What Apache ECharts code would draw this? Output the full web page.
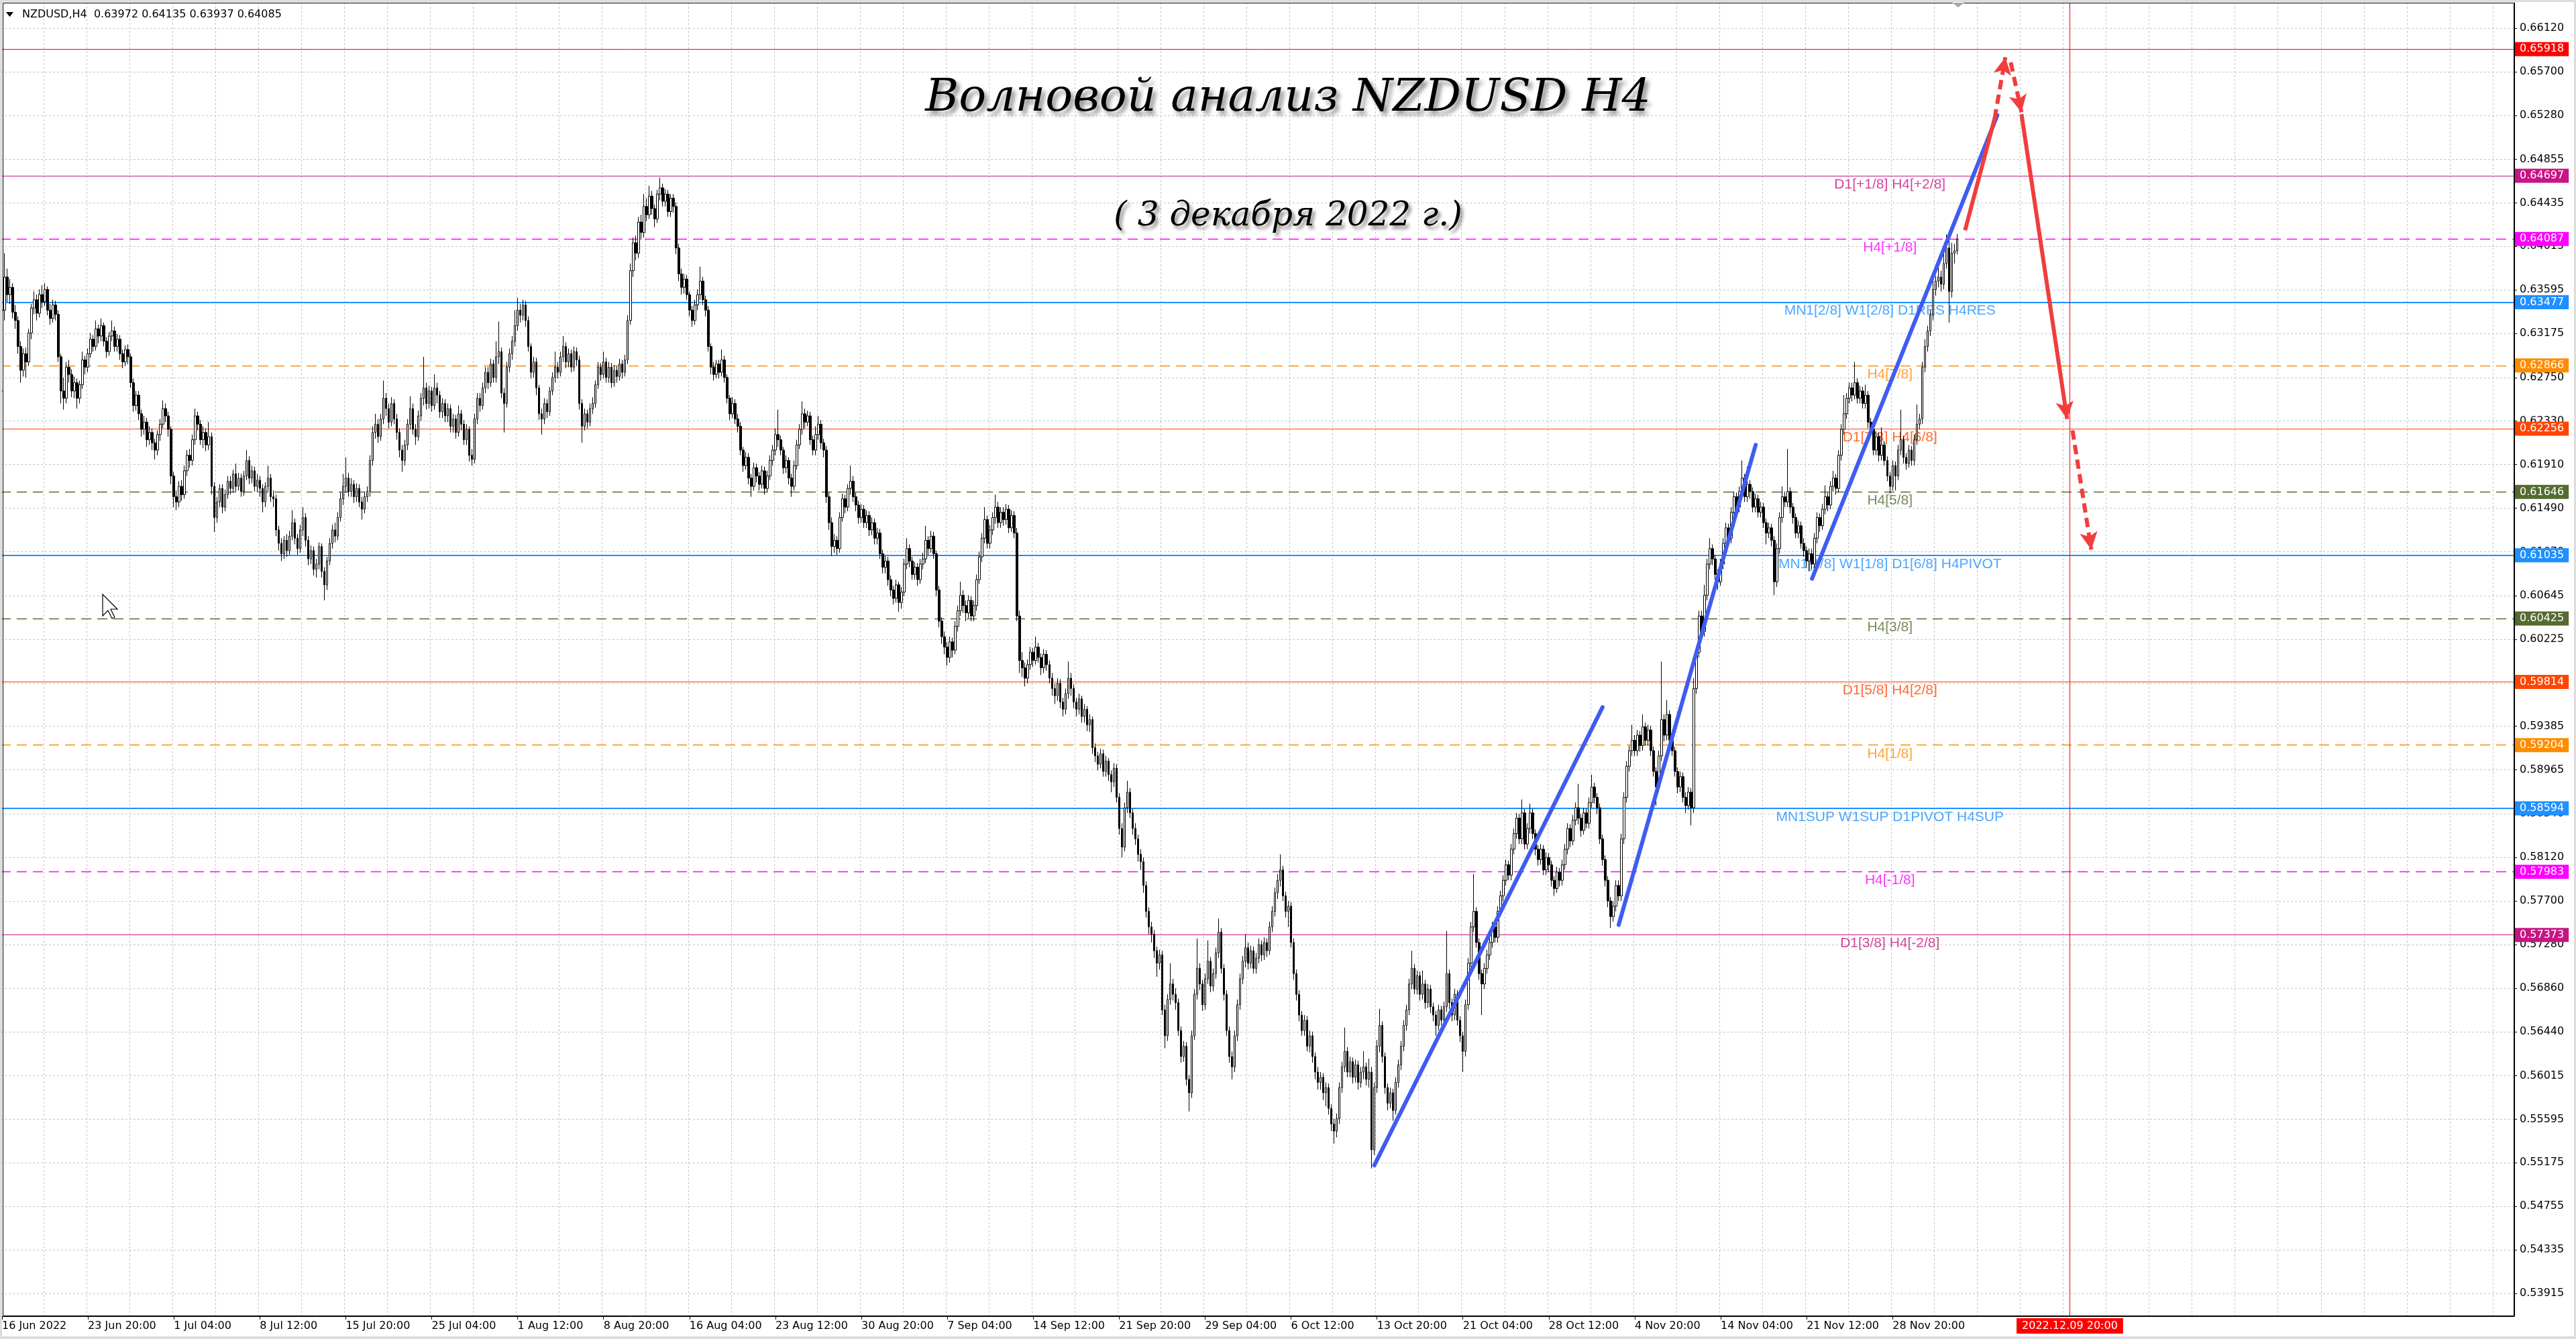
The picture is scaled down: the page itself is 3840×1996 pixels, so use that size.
<!DOCTYPE html>
<html><head><meta charset="utf-8">
<script src="https://cdn.jsdelivr.net/npm/echarts@6/dist/echarts.min.js"></script>
<style>html,body{margin:0;padding:0;background:#fff;}#c{width:3840px;height:1996px;}</style>
</head><body><div id="c"></div>
<script>
// H4 candles, values in pips (price*10000): [open, close, low, high]
const jun = [
[6262,6340,6248,6352],[6340,6372,6330,6395],[6372,6355,6348,6380],
[6355,6362,6346,6370],[6362,6338,6332,6366],[6338,6330,6322,6345],[6330,6305,6298,6334],[6305,6282,6270,6310],[6282,6298,6276,6303],
[6298,6290,6275,6304],[6290,6318,6286,6322],[6318,6342,6312,6346],[6342,6350,6336,6358],[6350,6337,6330,6355],[6337,6355,6333,6360],
[6355,6348,6342,6364],[6348,6360,6344,6366],[6360,6340,6335,6363],[6340,6332,6326,6346],[6332,6345,6328,6350],[6345,6336,6330,6349],
[6336,6295,6290,6340],[6295,6262,6250,6298],[6262,6255,6244,6275],[6255,6285,6250,6290],[6285,6278,6270,6292],[6278,6262,6256,6283],
[6262,6270,6255,6276],[6270,6255,6245,6274],[6255,6268,6250,6272],[6268,6292,6264,6300],[6292,6285,6278,6296],[6285,6298,6280,6303],
[6298,6312,6294,6318],[6312,6305,6300,6316],[6305,6322,6301,6330],[6322,6315,6308,6326],[6315,6325,6310,6332],[6325,6310,6305,6328],
[6310,6300,6294,6314],[6300,6315,6296,6319],[6315,6320,6310,6330],[6320,6305,6300,6324],[6305,6312,6300,6317],[6312,6298,6292,6316],
[6298,6290,6284,6302],[6290,6302,6286,6306],[6302,6295,6288,6307],[6295,6270,6265,6298],[6270,6248,6242,6274],[6248,6258,6243,6262],
[6258,6240,6234,6262],[6240,6225,6218,6244],[6225,6232,6220,6238],[6232,6215,6208,6236],[6215,6222,6210,6228],[6222,6212,6205,6226],
[6212,6205,6196,6216],[6205,6220,6200,6224],[6220,6230,6214,6235],[6230,6245,6226,6253],[6245,6238,6232,6250],[6238,6225,6218,6242]
];
const jul = [
[6225,6180,6172,6228],[6180,6160,6150,6184],[6160,6155,6147,6166],[6155,6170,6150,6175],[6170,6162,6156,6176],[6162,6185,6158,6190],
[6185,6200,6180,6205],[6200,6195,6188,6206],[6195,6215,6190,6220],[6215,6238,6210,6245],[6238,6230,6224,6242],[6230,6215,6210,6234],
[6215,6222,6207,6228],[6222,6210,6204,6226],[6210,6218,6205,6232],[6218,6170,6162,6222],[6170,6140,6126,6174],[6140,6155,6135,6160],
[6155,6168,6150,6172],[6168,6150,6144,6172],[6150,6162,6146,6167],[6162,6175,6158,6180],[6175,6168,6162,6180],[6168,6182,6164,6186],
[6182,6170,6165,6192],[6170,6178,6166,6183],[6178,6165,6160,6182],[6165,6180,6161,6185],[6180,6195,6176,6205],[6195,6178,6172,6199],
[6178,6185,6173,6190],[6185,6170,6165,6189],[6170,6176,6164,6182],[6176,6168,6160,6180],[6168,6155,6145,6172],[6155,6170,6150,6174],
[6170,6178,6165,6190],[6178,6160,6155,6182],[6160,6158,6150,6166],[6158,6128,6122,6162],[6128,6115,6108,6132],[6115,6105,6098,6120],
[6105,6118,6100,6122],[6118,6108,6102,6124],[6108,6122,6104,6127],[6122,6135,6118,6147],[6135,6120,6114,6139],[6120,6110,6104,6124],
[6110,6128,6106,6133],[6128,6140,6122,6150],[6140,6118,6112,6144],[6118,6100,6094,6122],[6100,6108,6095,6113],[6108,6090,6084,6112],
[6090,6095,6082,6100],[6095,6112,6090,6116],[6112,6088,6082,6115],[6088,6075,6060,6092],[6075,6098,6070,6102],[6098,6115,6094,6120],
[6115,6128,6110,6133],[6128,6122,6116,6135],[6122,6140,6118,6145],[6140,6158,6136,6164],[6158,6170,6152,6182],[6170,6178,6164,6198],
[6178,6165,6160,6183],[6165,6172,6160,6178],[6172,6160,6154,6176],[6160,6168,6155,6173],[6168,6155,6150,6172],[6155,6148,6138,6160],
[6148,6160,6144,6165],[6160,6165,6155,6170],[6165,6195,6160,6200],[6195,6222,6190,6228],[6222,6230,6216,6240],[6230,6218,6212,6235],
[6218,6235,6214,6240],[6235,6255,6230,6272],[6255,6245,6238,6260],[6245,6232,6226,6250],[6232,6250,6228,6256],[6250,6235,6230,6254],
[6235,6222,6215,6240],[6222,6205,6198,6226],[6205,6195,6184,6210],[6195,6210,6190,6215],[6210,6230,6205,6235],[6230,6245,6225,6257],
[6245,6225,6220,6250],[6225,6218,6210,6230],[6218,6238,6214,6243],[6238,6255,6233,6260],[6255,6265,6248,6295],[6265,6250,6244,6270],
[6250,6262,6245,6267],[6262,6248,6242,6266],[6248,6265,6244,6278],[6265,6258,6250,6270],[6258,6242,6236,6262],[6242,6250,6236,6255],
[6250,6238,6232,6254],[6238,6245,6232,6250],[6245,6228,6222,6249],[6228,6235,6222,6240],[6235,6222,6216,6239],[6222,6240,6218,6248],
[6240,6230,6224,6244],[6230,6215,6210,6234],[6215,6225,6210,6230],[6225,6200,6194,6228],[6200,6196,6190,6206],[6196,6235,6192,6240],
[6235,6255,6230,6260],[6255,6248,6242,6260],[6248,6265,6244,6270],[6265,6280,6260,6285],[6280,6270,6264,6285],[6270,6288,6266,6293],
[6288,6275,6270,6292],[6275,6295,6270,6310],[6295,6300,6288,6329],[6300,6260,6255,6304],[6260,6250,6222,6265],[6250,6285,6246,6290]
];
const aug = [
[6285,6298,6280,6303],[6298,6310,6292,6315],[6310,6325,6305,6340],[6325,6340,6320,6352],[6340,6335,6328,6346],[6335,6345,6330,6350],
[6345,6330,6324,6349],[6330,6305,6300,6334],[6305,6280,6274,6308],[6280,6290,6275,6295],[6290,6265,6258,6294],[6265,6240,6234,6268],
[6240,6235,6220,6245],[6235,6250,6230,6255],[6250,6242,6236,6254],[6242,6262,6238,6266],[6262,6275,6258,6280],[6275,6285,6270,6300],
[6285,6280,6274,6290],[6280,6295,6276,6300],[6295,6305,6290,6315],[6305,6290,6284,6309],[6290,6298,6285,6303],[6298,6285,6280,6302],
[6285,6300,6281,6305],[6300,6292,6286,6304],[6292,6250,6244,6296],[6250,6228,6212,6254],[6228,6240,6224,6245],[6240,6232,6226,6244],
[6232,6245,6228,6250],[6245,6250,6240,6256],[6250,6268,6246,6272],[6268,6285,6264,6290],[6285,6278,6272,6289],[6278,6290,6274,6300],
[6290,6275,6270,6294],[6275,6285,6270,6290],[6285,6270,6265,6289],[6270,6282,6266,6287],[6282,6276,6270,6286],[6276,6288,6272,6293],
[6288,6280,6274,6292],[6280,6292,6276,6297],[6292,6330,6288,6335],[6330,6378,6326,6385],[6378,6405,6372,6410],[6405,6395,6388,6412],
[6395,6425,6390,6430],[6425,6415,6408,6432],[6415,6440,6410,6452],[6440,6432,6426,6448],[6432,6450,6428,6460],[6450,6438,6432,6455],
[6438,6428,6420,6442],[6428,6452,6424,6456],[6452,6458,6446,6468],[6458,6445,6440,6462],[6445,6452,6440,6457],[6452,6435,6430,6456],
[6435,6448,6430,6452],[6448,6440,6434,6452],[6440,6400,6394,6444],[6400,6375,6368,6404],[6375,6362,6355,6380],[6362,6370,6356,6375],
[6370,6355,6350,6374],[6355,6340,6334,6358],[6340,6330,6324,6344],[6330,6345,6326,6350],[6345,6355,6340,6360],[6355,6368,6350,6382],
[6368,6350,6345,6372],[6350,6340,6334,6354],[6340,6305,6300,6344],[6305,6285,6278,6308],[6285,6278,6272,6290],[6278,6288,6274,6292],
[6288,6280,6274,6292],[6280,6292,6276,6302],[6292,6275,6270,6296],[6275,6255,6250,6278],[6255,6240,6234,6258],[6240,6250,6236,6256],
[6250,6235,6230,6254],[6235,6228,6222,6240],[6228,6205,6200,6232],[6205,6190,6184,6208],[6190,6198,6186,6203],[6198,6178,6172,6202],
[6178,6170,6160,6182],[6170,6188,6166,6193],[6188,6180,6174,6192],[6180,6172,6166,6184],[6172,6185,6168,6190],[6185,6168,6162,6189],
[6168,6180,6164,6185],[6180,6195,6176,6200],[6195,6205,6190,6210],[6205,6220,6200,6226],[6220,6215,6208,6244],[6215,6205,6200,6219],
[6205,6188,6182,6208],[6188,6195,6183,6200],[6195,6178,6172,6198],[6178,6170,6160,6182],[6170,6190,6166,6195],[6190,6210,6186,6215],
[6210,6225,6206,6230],[6225,6240,6220,6252],[6240,6232,6226,6245],[6232,6238,6228,6243],[6238,6215,6210,6242],[6215,6205,6200,6219],
[6205,6220,6200,6228],[6220,6230,6215,6238],[6230,6212,6206,6234],[6212,6205,6198,6216],[6205,6160,6154,6209],[6160,6135,6128,6164],
[6135,6112,6103,6140],[6112,6118,6106,6124],[6118,6110,6104,6122],[6110,6140,6106,6145],[6140,6158,6136,6163],[6158,6150,6144,6162],
[6150,6168,6146,6172],[6168,6175,6162,6190],[6175,6160,6155,6180],[6160,6152,6146,6164],[6152,6140,6134,6156],[6140,6148,6135,6153],
[6148,6135,6130,6152],[6135,6142,6130,6147],[6142,6128,6122,6146],[6128,6135,6123,6140],[6135,6120,6114,6139],[6120,6125,6114,6130]
];
const sep = [
[6125,6105,6100,6129],[6105,6092,6086,6109],[6092,6098,6086,6103],[6098,6080,6074,6102],[6080,6070,6064,6084],[6070,6062,6056,6074],
[6062,6075,6058,6080],[6075,6058,6049,6078],[6058,6068,6052,6073],[6068,6095,6064,6100],[6095,6110,6090,6120],[6110,6098,6092,6114],
[6098,6085,6080,6102],[6085,6092,6080,6097],[6092,6080,6074,6096],[6080,6095,6076,6100],[6095,6100,6090,6106],[6100,6118,6096,6132],
[6118,6110,6104,6122],[6110,6122,6106,6127],[6122,6105,6100,6126],[6105,6070,6064,6108],[6070,6040,6034,6074],[6040,6025,6018,6044],
[6025,6015,6008,6030],[6015,6005,5997,6020],[6005,6020,6000,6025],[6020,6012,6005,6024],[6012,6035,6008,6040],[6035,6050,6030,6055],
[6050,6065,6045,6078],[6065,6055,6048,6070],[6055,6048,6040,6060],[6048,6060,6043,6065],[6060,6045,6040,6064],[6045,6055,6040,6060],
[6055,6080,6050,6085],[6080,6102,6076,6107],[6102,6120,6097,6125],[6120,6138,6115,6150],[6138,6115,6110,6142],[6115,6128,6110,6133],
[6128,6140,6123,6145],[6140,6150,6134,6162],[6150,6135,6130,6155],[6135,6145,6130,6150],[6145,6138,6132,6150],[6138,6148,6133,6153],
[6148,6130,6125,6152],[6130,6142,6126,6147],[6142,6125,6120,6146],[6125,6045,6040,6130],[6045,6002,5990,6050],[6002,5995,5986,6010],
[5995,5985,5977,6000],[5985,5998,5980,6003],[5998,6010,5993,6015],[6010,6002,5996,6014],[6002,6015,5998,6025],[6015,6005,6000,6019],
[6005,5995,5988,6009],[5995,6008,5990,6013],[6008,5998,5992,6012],[5998,5985,5980,6002],[5985,5975,5968,5990],[5975,5968,5960,5980],
[5968,5980,5963,5985],[5980,5962,5956,5984],[5962,5955,5948,5966],[5955,5970,5950,5975],[5970,5985,5965,6001],[5985,5975,5968,5990],
[5975,5962,5956,5979],[5962,5955,5948,5966],[5955,5965,5950,5970],[5965,5948,5942,5968],[5948,5955,5942,5960],[5955,5940,5934,5958],
[5940,5945,5933,5950],[5945,5918,5912,5948],[5918,5910,5904,5922],[5910,5902,5896,5914],[5902,5912,5898,5917],[5912,5895,5890,5916],
[5895,5905,5890,5910],[5905,5892,5886,5908],[5892,5885,5875,5896],[5885,5898,5880,5903],[5898,5870,5865,5902],[5870,5840,5834,5874],
[5840,5822,5812,5845],[5822,5860,5818,5865],[5860,5875,5855,5886],[5875,5855,5850,5879],[5855,5840,5834,5859],[5840,5830,5824,5845],
[5830,5815,5808,5834],[5815,5808,5800,5820],[5808,5785,5778,5812],[5785,5760,5754,5789],[5760,5745,5738,5764],[5745,5738,5730,5750],
[5738,5722,5715,5742],[5722,5710,5697,5726],[5710,5718,5704,5723],[5718,5665,5660,5722],[5665,5640,5628,5670],[5640,5675,5635,5680],
[5675,5690,5670,5710],[5690,5680,5674,5695],[5680,5672,5665,5686],[5672,5645,5640,5676],[5645,5620,5614,5649],[5620,5630,5615,5635],
[5630,5598,5592,5634],[5598,5585,5567,5602],[5585,5640,5580,5645],[5640,5680,5636,5685],[5680,5705,5675,5734],[5705,5690,5684,5710],
[5690,5670,5664,5694],[5670,5695,5665,5700],[5695,5712,5690,5732],[5712,5688,5682,5716],[5688,5700,5683,5705],[5700,5720,5695,5725],
[5720,5740,5715,5753],[5740,5705,5700,5744],[5705,5680,5674,5709],[5680,5645,5640,5684],[5645,5620,5614,5649],[5620,5610,5598,5625]
];
const oct = [
[5610,5640,5605,5645],[5640,5670,5635,5675],[5670,5695,5665,5700],[5695,5712,5690,5717],[5712,5725,5706,5738],[5725,5710,5704,5730],
[5710,5722,5705,5727],[5722,5705,5700,5726],[5705,5715,5700,5720],[5715,5728,5710,5734],[5728,5718,5712,5732],[5718,5730,5713,5735],
[5730,5722,5716,5734],[5722,5745,5718,5750],[5745,5760,5740,5765],[5760,5778,5755,5783],[5778,5790,5772,5796],[5790,5800,5784,5815],
[5800,5775,5770,5804],[5775,5760,5754,5779],[5760,5765,5745,5770],[5765,5730,5725,5769],[5730,5700,5694,5734],[5700,5680,5674,5704],
[5680,5660,5654,5684],[5660,5645,5640,5664],[5645,5655,5640,5660],[5655,5630,5625,5659],[5630,5640,5624,5645],[5640,5620,5614,5644],
[5620,5605,5598,5624],[5605,5595,5588,5610],[5595,5600,5588,5605],[5600,5585,5578,5604],[5585,5590,5572,5595],[5590,5570,5564,5594],
[5570,5555,5548,5574],[5555,5548,5536,5560],[5548,5560,5542,5565],[5560,5590,5555,5595],[5590,5610,5585,5615],[5610,5625,5605,5648],
[5625,5605,5600,5629],[5605,5615,5600,5620],[5615,5600,5594,5619],[5600,5612,5595,5617],[5612,5595,5588,5616],[5595,5605,5590,5610],
[5605,5610,5598,5625],[5610,5598,5592,5614],[5598,5605,5590,5618],[5605,5530,5512,5610],[5530,5590,5525,5595],[5590,5630,5585,5636],
[5630,5650,5624,5666],[5650,5620,5614,5654],[5620,5590,5584,5624],[5590,5575,5568,5594],[5575,5585,5570,5590],[5585,5568,5558,5589],
[5568,5595,5564,5600],[5595,5612,5590,5617],[5612,5630,5607,5635],[5630,5650,5625,5655],[5650,5665,5645,5670],[5665,5690,5660,5695],
[5690,5705,5685,5722],[5705,5685,5680,5709],[5685,5698,5680,5703],[5698,5680,5674,5702],[5680,5690,5675,5703],[5690,5672,5666,5694],
[5672,5685,5667,5690],[5685,5668,5662,5689],[5668,5660,5654,5672],[5660,5650,5640,5664],[5650,5665,5645,5670],[5665,5655,5650,5669],
[5655,5668,5650,5673],[5668,5700,5663,5741],[5700,5672,5666,5704],[5672,5660,5654,5676],[5660,5680,5655,5685],[5680,5655,5650,5684],
[5655,5640,5634,5659],[5640,5625,5605,5644],[5625,5670,5620,5675],[5670,5710,5665,5715],[5710,5745,5705,5750],[5745,5760,5740,5796],
[5760,5730,5725,5764],[5730,5700,5694,5734],[5700,5690,5660,5704],[5690,5705,5685,5710],[5705,5718,5700,5723],[5718,5730,5713,5735],
[5730,5745,5725,5750],[5745,5735,5730,5749],[5735,5760,5730,5765],[5760,5775,5755,5780],[5775,5790,5770,5795],[5790,5805,5785,5810],
[5805,5795,5790,5809],[5795,5820,5790,5825],[5820,5835,5815,5840],[5835,5850,5830,5855],[5850,5830,5825,5854],[5830,5855,5825,5868],
[5855,5825,5820,5859],[5825,5840,5820,5845],[5840,5855,5835,5864],[5855,5835,5830,5859],[5835,5820,5814,5839],[5820,5810,5804,5824],
[5810,5820,5805,5825],[5820,5800,5795,5824],[5800,5812,5795,5817],[5812,5805,5798,5816],[5805,5790,5784,5809],[5790,5782,5775,5794],
[5782,5798,5778,5803],[5798,5790,5784,5802],[5790,5805,5785,5810],[5805,5820,5800,5825],[5820,5840,5815,5845],[5840,5828,5822,5844]
];
const nov = [
[5828,5848,5824,5853],[5848,5860,5843,5865],[5860,5850,5844,5883],[5850,5838,5832,5854],[5838,5855,5834,5860],[5855,5845,5840,5859],
[5845,5865,5840,5870],[5865,5880,5860,5892],[5880,5870,5864,5884],[5870,5860,5854,5874],[5860,5830,5825,5864],[5830,5810,5804,5834],
[5810,5790,5784,5814],[5790,5770,5764,5794],[5770,5755,5744,5774],[5755,5765,5750,5770],[5765,5785,5760,5790],[5785,5775,5770,5790],
[5775,5830,5770,5835],[5830,5870,5825,5875],[5870,5900,5865,5905],[5900,5915,5895,5920],[5915,5925,5910,5940],[5925,5915,5910,5930],
[5915,5930,5910,5935],[5930,5920,5914,5934],[5920,5938,5915,5950],[5938,5925,5920,5942],[5925,5935,5920,5940],[5935,5915,5910,5939],
[5915,5895,5890,5919],[5895,5880,5862,5899],[5880,5910,5875,5915],[5910,5945,5905,6001],[5945,5930,5924,5950],[5930,5950,5925,5964],
[5950,5925,5920,5954],[5925,5915,5910,5929],[5915,5895,5890,5919],[5895,5880,5874,5899],[5880,5890,5875,5895],[5890,5870,5865,5894],
[5870,5862,5855,5875],[5862,5875,5858,5880],[5875,5860,5843,5879],[5860,5975,5855,5985],[5975,6010,5970,6015],[6010,6045,6005,6050],
[6045,6030,6024,6050],[6030,6065,6025,6075],[6065,6095,6060,6100],[6095,6110,6090,6120],[6110,6100,6094,6114],[6100,6085,6080,6104],
[6085,6078,6070,6090],[6078,6095,6074,6100],[6095,6115,6090,6120],[6115,6130,6110,6135],[6130,6120,6114,6134],[6120,6145,6115,6150],
[6145,6160,6140,6165],[6160,6150,6144,6164],[6150,6165,6145,6170],[6165,6178,6160,6195],[6178,6160,6155,6182],[6160,6172,6155,6189],
[6172,6165,6158,6176],[6165,6150,6145,6169],[6150,6158,6145,6163],[6158,6145,6140,6162],[6145,6150,6140,6155],[6150,6135,6130,6154],
[6135,6125,6114,6139],[6125,6130,6120,6135],[6130,6118,6112,6134],[6118,6078,6065,6122],[6078,6110,6073,6115],[6110,6140,6105,6145],
[6140,6160,6135,6170],[6160,6155,6150,6165],[6155,6165,6150,6206],[6165,6150,6144,6169],[6150,6140,6134,6154],[6140,6125,6120,6144],
[6125,6132,6120,6137],[6132,6115,6110,6136],[6115,6108,6102,6120],[6108,6098,6092,6112],[6098,6105,6088,6110],[6105,6095,6090,6110],
[6095,6120,6090,6125],[6120,6140,6115,6145],[6140,6132,6126,6144],[6132,6148,6128,6153],[6148,6160,6143,6171],[6160,6152,6146,6164],
[6152,6170,6148,6175],[6170,6178,6165,6185],[6178,6168,6162,6182],[6168,6200,6164,6205],[6200,6225,6195,6230],[6225,6240,6220,6258],
[6240,6255,6235,6260],[6255,6265,6250,6270],[6265,6258,6252,6270],[6258,6270,6254,6290],[6270,6255,6250,6274],[6255,6262,6250,6267],
[6262,6250,6245,6266],[6250,6258,6245,6268],[6258,6232,6226,6262],[6232,6225,6218,6236],[6225,6205,6200,6229],[6205,6218,6200,6223],
[6218,6200,6194,6222],[6200,6210,6195,6227],[6210,6195,6190,6214],[6195,6180,6175,6199],[6180,6170,6163,6184],[6170,6190,6166,6195],
[6190,6180,6166,6194],[6180,6205,6176,6210],[6205,6215,6200,6244],[6215,6198,6192,6219],[6198,6192,6186,6202],[6192,6205,6188,6210],
[6205,6195,6190,6209],[6195,6215,6190,6220],[6215,6230,6210,6249],[6230,6235,6225,6240],[6235,6285,6230,6290],[6285,6305,6280,6312]
];
const dec = [
[6305,6320,6300,6325],[6320,6335,6315,6340],[6335,6360,6330,6374],[6360,6368,6354,6373],[6368,6372,6362,6385],[6372,6365,6358,6378],
[6365,6385,6360,6400],[6385,6400,6380,6413],[6400,6358,6328,6408],[6358,6395,6352,6405],[6395,6397.2,6385,6404],[6397.2,6408.5,6393.7,6413.5]
];

// price levels and their captions
const levelPrices = [0.65918,0.64697,0.64087,0.63477,0.62866,0.62256,0.61646,0.61035,0.60425,0.59814,0.59204,0.58594,0.57983,0.57373];
const levelNames = ['','D1[+1/8] H4[+2/8]','H4[+1/8]','MN1[2/8] W1[2/8] D1RES H4RES','H4[7/8]','D1[7/8] H4[6/8]','H4[5/8]',
  'MN1[1/8] W1[1/8] D1[6/8] H4PIVOT','H4[3/8]','D1[5/8] H4[2/8]','H4[1/8]','MN1SUP W1SUP D1PIVOT H4SUP','H4[-1/8]','D1[3/8] H4[-2/8]'];
// y-axis tick labels
const yTicks = [0.66120,0.65700,0.65280,0.64855,0.64435,0.64015,0.63595,0.63175,0.62750,0.62330,0.61910,0.61490,0.61070,0.60645,
  0.60225,0.59805,0.59385,0.58965,0.58540,0.58120,0.57700,0.57280,0.56860,0.56440,0.56015,0.55595,0.55175,0.54755,0.54335,0.53915];
// x-axis tick labels (every 32 bars)
const xTickLabels = ['16 Jun 2022','23 Jun 20:00','1 Jul 04:00','8 Jul 12:00','15 Jul 20:00','25 Jul 04:00','1 Aug 12:00','8 Aug 20:00',
  '16 Aug 04:00','23 Aug 12:00','30 Aug 20:00','7 Sep 04:00','14 Sep 12:00','21 Sep 20:00','29 Sep 04:00','6 Oct 12:00','13 Oct 20:00',
  '21 Oct 04:00','28 Oct 12:00','4 Nov 20:00','14 Nov 04:00','21 Nov 12:00','28 Nov 20:00'];
// wave lines: [barIndex, price]
const waveLines = [
  [[511,0.5515],[596,0.5957]],
  [[602,0.5747],[653,0.6210]],
  [[674,0.6081],[743,0.6528]]
];
// forecast path segments: [barIndex, price]
const forecastSolid = [ [[731,0.6417],[742,0.6525]], [[752,0.6529],[769,0.6235]] ];
const forecastDashed = [ [[742,0.6525],[746,0.6584]], [[748,0.6579],[752,0.6531]], [[771,0.6224],[778,0.6109]] ];
const futureBar = 770, futureLabel = '2022.12.09 20:00';
const header = 'NZDUSD,H4  0.63972 0.64135 0.63937 0.64085';
const titleMain = 'Волновой анализ NZDUSD H4';
const titleSub = '( 3 декабря 2022 г.)';

// ---------- styles ----------
const levelColors = ['#FF0000','#C71585','#FF00FF','#1E90FF','#FF8C00','#FF4500','#556B2F','#1E90FF','#556B2F','#FF4500','#FF8C00','#1E90FF','#FF00FF','#C71585'];
const levelDashed = [false,false,true,false,true,false,true,false,true,false,true,false,true,false];
const levelWidth  = [1,1,1.4,2,1.4,1,1.4,2,1.4,1,1.4,2,1.4,1];
const AXFONT = 'DejaVu Sans';

const bars = [].concat(jun, jul, aug, sep, oct, nov, dec);
const ohlc = bars.map(b => b.map(v => v / 10000));
const N = 936;
const cats = Array.from({length: N}, (_, j) => 'b' + j);
const showLab = (i) => i % 32 === 0 && (i / 32) < xTickLabels.length;

const chart = echarts.init(document.getElementById('c'), null, {renderer: 'canvas', width: 3840, height: 1996});

const levelMarks = levelPrices.map((p, i) => ({
  yAxis: p,
  lineStyle: {color: levelColors[i], width: levelWidth[i], type: levelDashed[i] ? [15, 9] : 'solid'},
  label: {show: true, position: 'end', distance: 1, formatter: p.toFixed(5), backgroundColor: levelColors[i],
    color: '#fff', fontFamily: AXFONT, fontSize: 16, lineHeight: 17, padding: [2, 7, 2, 7]}
}));
const futureMark = {
  xAxis: futureBar, lineStyle: {color: '#FF0000', width: 1, type: 'solid'},
  label: {show: true, position: 'start', distance: 3, formatter: futureLabel, backgroundColor: '#FF0000', color: '#fff',
    fontFamily: AXFONT, fontSize: 16, lineHeight: 17, padding: [3, 8, 3, 8]}
};

const segs = (arr, withArrow) => arr.map(s => [
  {coord: s[0], symbol: 'none'},
  {coord: s[1], symbol: withArrow ? 'arrow' : 'none', symbolSize: [20, 26]}
]);

const option = {
  animation: false,
  backgroundColor: '#ffffff',
  title: [
    {text: titleMain, left: 'center', top: 108,
      textStyle: {fontFamily: 'DejaVu Serif', fontStyle: 'italic', fontWeight: 'normal', fontSize: 68, color: '#000',
        textShadowColor: 'rgba(0,0,0,0.45)', textShadowBlur: 6, textShadowOffsetX: 5, textShadowOffsetY: 6}},
    {text: titleSub, left: 'center', top: 293,
      textStyle: {fontFamily: 'DejaVu Serif', fontStyle: 'italic', fontWeight: 'normal', fontSize: 50, color: '#000',
        textShadowColor: 'rgba(0,0,0,0.45)', textShadowBlur: 5, textShadowOffsetX: 4, textShadowOffsetY: 5}}
  ],
  grid: {left: 1, right: 92, top: 4, bottom: 34, containLabel: false, outerBoundsMode: 'none'},
  xAxis: {
    type: 'category', data: cats, boundaryGap: true,
    axisLine: {show: true, lineStyle: {color: '#000', width: 1}},
    axisTick: {show: true, alignWithLabel: true, interval: showLab, length: 5, lineStyle: {color: '#000'}},
    axisLabel: {show: true, interval: showLab, formatter: (v, i) => xTickLabels[i / 32] || '', align: 'left',
      color: '#000', fontFamily: AXFONT, fontSize: 16, margin: 7},
    splitLine: {show: true, interval: 15, lineStyle: {color: '#c4c4c4', type: [3, 3], width: 1}}
  },
  yAxis: {
    type: 'value', position: 'right', min: 0.53695, max: 0.66366,
    axisLine: {show: true, lineStyle: {color: '#000', width: 1}},
    axisTick: {show: true, customValues: yTicks, length: 4, lineStyle: {color: '#000'}},
    axisLabel: {show: true, customValues: yTicks, formatter: v => v.toFixed(5), color: '#000', fontFamily: AXFONT, fontSize: 16, margin: 8},
    splitLine: {show: false}
  },
  series: [
    {type: 'scatter', name: 'levelText', z: 2, silent: true, symbolSize: 1, itemStyle: {color: 'rgba(0,0,0,0)'},
      data: levelPrices.map((p, i) => ({value: [703, p], name: levelNames[i], label: {color: levelColors[i]}}))
        .filter(d => d.name !== ''),
      label: {show: true, position: 'bottom', distance: 2, formatter: d => d.name, fontFamily: 'Liberation Sans', fontSize: 21},
      markLine: {silent: true, symbol: 'none', animation: false, z: 2, precision: 5, data: levelMarks.concat([futureMark])}},
    {type: 'candlestick', name: 'NZDUSD', data: ohlc, barWidth: 3, large: false, z: 3,
      itemStyle: {color: '#ffffff', color0: '#000000', borderColor: '#000000', borderColor0: '#000000', borderWidth: 1},
      markLine: {silent: true, symbol: 'none', label: {show: false}, animation: false, z: 1, precision: 5,
        lineStyle: {color: '#c4c4c4', type: [3, 3], width: 1}, data: yTicks.map(v => ({yAxis: v}))}},
    {type: 'line', name: 'waves', data: [], silent: true, z: 5,
      markLine: {silent: true, symbol: 'none', animation: false, label: {show: false},
        lineStyle: {color: '#3F5CF2', width: 6, type: 'solid', cap: 'round'},
        data: waveLines.map(s => [{coord: s[0]}, {coord: s[1]}])}},
    {type: 'line', name: 'forecastSolid', data: [], silent: true, z: 6,
      markLine: {silent: true, animation: false, label: {show: false},
        lineStyle: {color: '#F23D3D', width: 6, type: 'solid'},
        data: [segs([forecastSolid[0]], false)[0], segs([forecastSolid[1]], true)[0]]}},
    {type: 'line', name: 'forecastDashed', data: [], silent: true, z: 6,
      markLine: {silent: true, animation: false, label: {show: false},
        lineStyle: {color: '#F23D3D', width: 6, type: [14, 8]},
        data: segs(forecastDashed, true)}}
  ],
  graphic: [
    {type: 'rect', z: 100, shape: {x: 0, y: 0, width: 3840, height: 3}, style: {fill: '#dcdcdc'}},
    {type: 'rect', z: 100, shape: {x: 0, y: 0, width: 3, height: 1996}, style: {fill: '#dcdcdc'}},
    {type: 'rect', z: 100, shape: {x: 3837, y: 0, width: 3, height: 1996}, style: {fill: '#dcdcdc'}},
    {type: 'rect', z: 100, shape: {x: 0, y: 1992, width: 3840, height: 4}, style: {fill: '#dcdcdc'}},
    {type: 'rect', z: 99, shape: {x: 4.5, y: 4.5, width: 3743, height: 1957}, style: {fill: 'none', stroke: '#000', lineWidth: 1}},
    {type: 'polygon', z: 99, shape: {points: [[9, 18], [20, 18], [14.5, 25]]}, style: {fill: '#000'}},
    {type: 'text', z: 99, style: {text: header, x: 33, y: 22, fill: '#000', font: '16px "DejaVu Sans"', verticalAlign: 'middle'}},
    {type: 'polygon', z: 99, shape: {points: [[2910, 4], [2928, 4], [2919, 11]]}, style: {fill: '#a8a8a8'}},
    {type: 'polygon', z: 99, shape: {points: [[153, 886], [153, 918], [161, 910], [167, 922], [171, 920], [165, 908], [175, 908]]},
      style: {fill: '#fff', stroke: '#000', lineWidth: 1.2}}
  ]
};
chart.setOption(option);
</script></body></html>
